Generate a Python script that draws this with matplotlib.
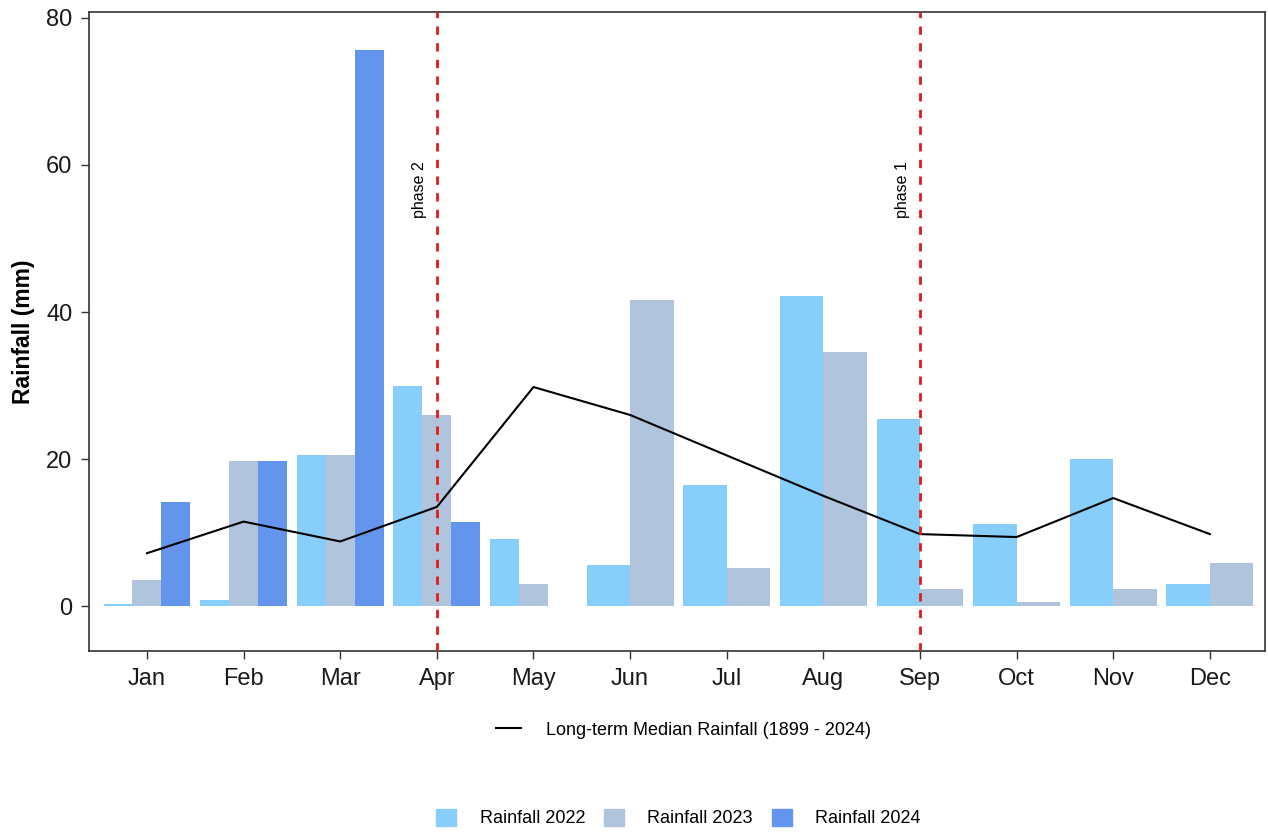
import matplotlib
matplotlib.use("Agg")
import matplotlib.pyplot as plt
from matplotlib.lines import Line2D
from matplotlib.patches import Patch
import numpy as np

plt.rcParams['font.family'] = ['Liberation Sans', 'DejaVu Sans']

months = ['Jan', 'Feb', 'Mar', 'Apr', 'May', 'Jun', 'Jul', 'Aug', 'Sep', 'Oct', 'Nov', 'Dec']
rain_2022 = [0.3, 0.8, 20.6, 30.0, 9.2, 5.6, 16.5, 42.2, 25.4, 11.2, 20.0, 3.0]
rain_2023 = [3.6, 19.8, 20.6, 26.0, 3.0, 41.7, 5.2, 34.5, 2.4, 0.6, 2.4, 5.9]
rain_2024 = [14.2, 19.8, 75.6, 11.5, 0.0, None, None, None, None, None, None, None]
median_rain = [7.2, 11.5, 8.8, 13.5, 29.8, 26.0, 20.5, 15.0, 9.8, 9.4, 14.7, 9.8]
phases = [('phase 2', 4), ('phase 1', 9)]

col_2022 = '#87CEFA'
col_2023 = '#B0C4DE'
col_2024 = '#6495ED'

fig = plt.figure(figsize=(12.68, 8.34), dpi=100)
ax = fig.add_axes([0.0702, 0.2194, 0.9274, 0.7662])

# dodge like ggplot: 3 slots while 2024 exists, else 2 slots
group_w = 0.9
for i in range(len(months)):
    x = i + 1
    vals = [(rain_2022[i], col_2022), (rain_2023[i], col_2023)]
    if rain_2024[i] is not None:
        vals.append((rain_2024[i], col_2024))
    w = group_w / len(vals)
    left = x - group_w / 2
    for j, (v, c) in enumerate(vals):
        ax.bar(left + w * (j + 0.5), v, width=w, color=c, linewidth=0, zorder=2)

ax.plot(np.arange(1, 13), median_rain, color='black', linewidth=1.5, zorder=3)

for label, xv in phases:
    ax.axvline(xv, color='#E41A1C', linestyle=(0, (3, 3)), linewidth=2, zorder=4)
    ax.text(xv - 0.18, 56.6, label, rotation=90, ha='center', va='center', fontsize=11.5)

ax.set_xlim(0.4, 12.57)
ax.set_ylim(-6.1, 80.8)
ax.set_xticks(np.arange(1, 13))
ax.set_xticklabels(months)
ax.set_yticks([0, 20, 40, 60, 80])
ax.tick_params(axis='both', labelsize=17, length=6, width=1, color='#333333', labelcolor='#1a1a1a')
ax.tick_params(axis='x', pad=6)
ax.tick_params(axis='y', pad=6)
ax.set_ylabel('Rainfall (mm)', fontsize=16.5, fontweight='bold', labelpad=8)
for s in ax.spines.values():
    s.set_linewidth(1.2)
    s.set_color('#333333')

fig.legend(handles=[Line2D([0], [0], color='black', linewidth=1.5)],
           labels=['Long-term Median Rainfall (1899 - 2024)'],
           loc='center', bbox_to_anchor=(0.539, 0.1247), frameon=False,
           fontsize=13, handlelength=1.4, handletextpad=1.4)

handles = [Patch(color=col_2022), Patch(color=col_2023), Patch(color=col_2024)]
fig.legend(handles=handles, labels=['Rainfall 2022', 'Rainfall 2023', 'Rainfall 2024'],
           loc='center', bbox_to_anchor=(0.535, 0.0192), frameon=False, ncol=3,
           fontsize=13, handlelength=1.1, handleheight=1.1, handletextpad=1.3,
           columnspacing=1.05)

fig.savefig('out.png', dpi=100)
